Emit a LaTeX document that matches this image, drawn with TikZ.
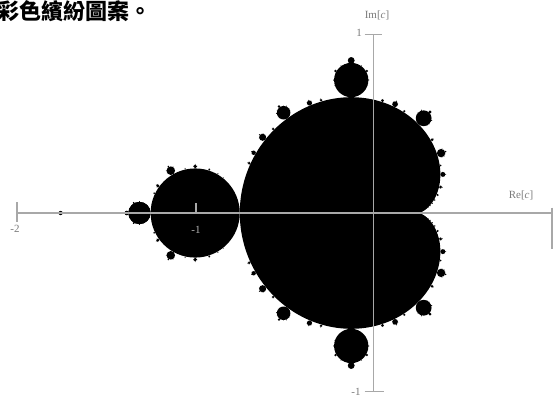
\documentclass[tikz,border=0pt]{standalone}
\usepackage{fontspec}
\setmainfont{Liberation Serif}
\newfontfamily\cjk{Noto Sans CJK TC}
\definecolor{axisgray}{HTML}{A8A8A8}
\definecolor{labelgray}{HTML}{7A7A7A}
\definecolor{lightlabel}{HTML}{B0B0B0}
\tikzset{
  axisline/.style={draw=axisgray, line width=1.4pt},
  ticklabel/.style={text=labelgray, font=\fontsize{11}{11}\selectfont, inner sep=0pt},
  setfill/.style={fill=black}
}
\begin{document}
\begin{tikzpicture}[x=1pt,y=1pt]
\useasboundingbox (0,0) rectangle (554,-410);
\node[anchor=west, inner sep=0pt, font=\cjk\bfseries\fontsize{22}{22}\selectfont] (title) at (-3,-11) {彩色繽紛圖案。};
\begin{scope}[shift={(373.5pt,-213pt)}, x=178.3pt, y=178.3pt]
  % main cardioid
  \fill[setfill] plot[domain=0:360, samples=360] ({cos(\x)/2-cos(2*\x)/4},{sin(\x)/2-sin(2*\x)/4}) -- cycle;
  % period-2 disk
  \fill[setfill] (-1,0) circle (0.25);
  % bulbs on the cardioid
  \foreach \p/\q in {1/3,1/4,1/5,2/5,1/6,1/7,2/7,3/7,1/8,3/8,1/9,2/9,4/9,1/10,3/10,1/11,2/11,3/11,4/11,5/11,1/12,5/12}{
    \pgfmathsetmacro\t{360*\p/\q}
    \pgfmathsetmacro\r{sin(180*\p/\q)/(\q*\q)}
    \pgfmathsetmacro\ax{cos(\t)/2-cos(2*\t)/4}
    \pgfmathsetmacro\ay{sin(\t)/2-sin(2*\t)/4}
    \pgfmathsetmacro\na{1.5*\t-90}
    \pgfmathsetmacro\cx{\ax+\r*cos(\na)}
    \pgfmathsetmacro\cy{\ay+\r*sin(\na)}
    \fill[setfill] (\cx,\cy) circle (\r);
    \fill[setfill] (\cx,-\cy) circle (\r);
    \foreach \s/\u in {1/2,1/3,2/3,1/4,3/4,1/5,2/5,3/5,4/5}{
      \pgfmathsetmacro\sa{\na+180+360*\s/\u}
      \pgfmathsetmacro\sr{0.8*\r*sin(180*\s/\u)/(\u*\u)}
      \pgfmathsetmacro\sx{\cx+(\r+0.7*\sr)*cos(\sa)}
      \pgfmathsetmacro\sy{\cy+(\r+0.7*\sr)*sin(\sa)}
      \fill[setfill] (\sx,\sy) circle (\sr);
      \fill[setfill] (\sx,-\sy) circle (\sr);
    }
  }
  % bulbs on the period-2 disk
  \foreach \p/\q in {1/2,1/3,1/4,1/5,2/5,1/6,1/7,2/7,3/7}{
    \pgfmathsetmacro\t{360*\p/\q}
    \pgfmathsetmacro\r{0.25*sin(180*\p/\q)/(\q*\q)}
    \pgfmathsetmacro\cx{-1+(0.25+\r)*cos(\t)}
    \pgfmathsetmacro\cy{(0.25+\r)*sin(\t)}
    \fill[setfill] (\cx,\cy) circle (\r);
    \fill[setfill] (\cx,-\cy) circle (\r);
    \foreach \s/\u in {1/2,1/3,2/3,1/4,3/4}{
      \pgfmathsetmacro\sa{\t+180+360*\s/\u}
      \pgfmathsetmacro\sr{0.8*\r*sin(180*\s/\u)/(\u*\u)}
      \pgfmathsetmacro\sx{\cx+(\r+0.7*\sr)*cos(\sa)}
      \pgfmathsetmacro\sy{\cy+(\r+0.7*\sr)*sin(\sa)}
      \fill[setfill] (\sx,\sy) circle (\sr);
      \fill[setfill] (\sx,-\sy) circle (\sr);
    }
  }
  % small copy near -1.75
  \fill[setfill] (-1.755,0) circle (0.012);
  % axes
  \coordinate (xl) at (-2,0);
  \coordinate (xr) at (1,0);
  \coordinate (yt) at (0,1);
  \coordinate (yb) at (0,-1);
  \draw[axisline] (xl) -- (xr);
  \draw[axisline] (yb) -- (yt);
  \coordinate (tm2a) at (-2,0.06);
  \coordinate (tm2b) at (-2,-0.05);
  \draw[axisline] (tm2a) -- (tm2b);
  \coordinate (tm1a) at (-0.995,0.055);
  \coordinate (tm1b) at (-0.995,0);
  \draw[axisline] (tm1a) -- (tm1b);
  \coordinate (tp1a) at (1,0.03);
  \coordinate (tp1b) at (1,-0.2);
  \draw[axisline] (tp1a) -- (tp1b);
  \coordinate (tyta) at (-0.05,1);
  \coordinate (tytb) at (0.05,1);
  \draw[axisline] (tyta) -- (tytb);
  \coordinate (tyba) at (-0.05,-1);
  \coordinate (tybb) at (0.06,-1);
  \draw[axisline] (tyba) -- (tybb);
\end{scope}
\node[ticklabel] (lbim) at (377,-15) {Im[\textit{c}]};
\node[ticklabel] (lbre) at (521,-195) {Re[\textit{c}]};
\node[ticklabel] (lbyt) at (359,-33) {1};
\node[ticklabel] (lbyb) at (356,-392) {-1};
\node[ticklabel] (lbxm2) at (15,-229) {-2};
\node[ticklabel, text=lightlabel] (lbxm1) at (196,-230) {-1};
\end{tikzpicture}
\end{document}
